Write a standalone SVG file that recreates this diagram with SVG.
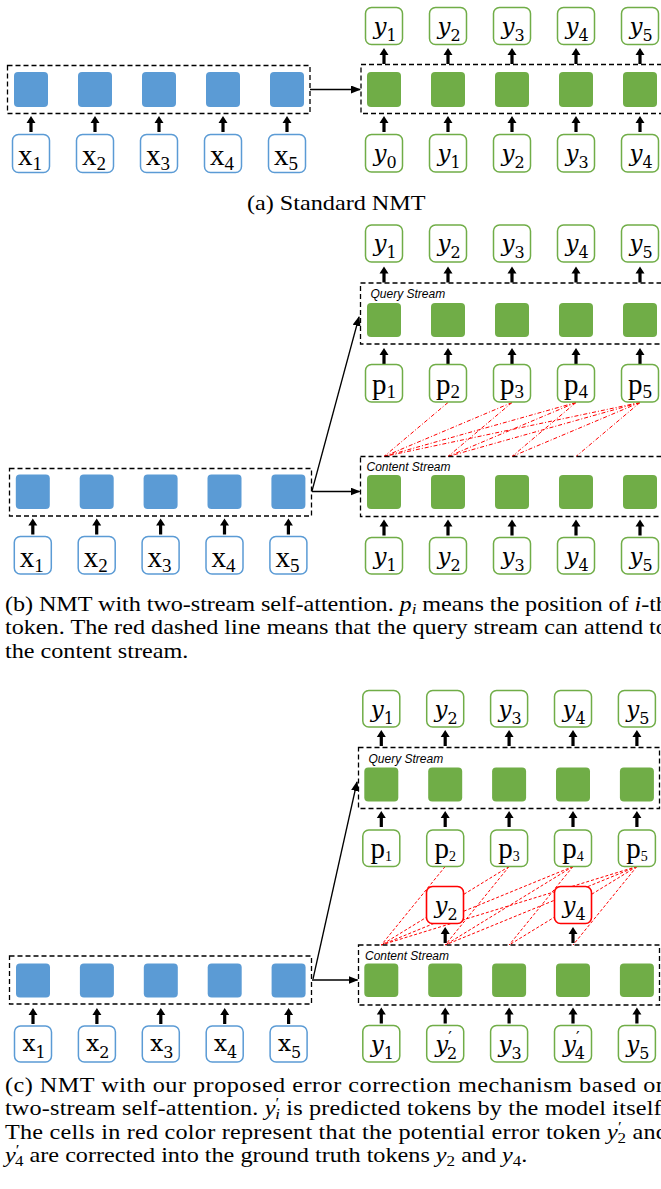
<svg xmlns="http://www.w3.org/2000/svg" xmlns:xlink="http://www.w3.org/1999/xlink" width="661" height="1189" viewBox="0 0 661 1189">
<defs>
<style>
.sqB{fill:#5b9bd5}
.sqG{fill:#70ad47}
.bB{fill:#fff;stroke:#5b9bd5;stroke-width:1.5}
.bG{fill:#fff;stroke:#70ad47;stroke-width:1.5}
.bR{fill:#fff;stroke:#ff0000;stroke-width:1.6}
.dash{fill:none;stroke:#000;stroke-width:1.3;stroke-dasharray:5 3}
.ln{fill:none;stroke:#000;stroke-width:1.3}
.rl1{fill:none;stroke:#ff0000;stroke-width:1;stroke-dasharray:4 2 1 2}
.rl2{fill:none;stroke:#ff0000;stroke-width:1;stroke-dasharray:3 2}
.tl{font-family:"Liberation Serif","Times New Roman",serif;font-size:29px;text-anchor:middle;fill:#000}
.ts{font-size:19px}
.tss{font-size:14px}
.ml{font-family:"DejaVu Serif",serif;font-size:23px;text-anchor:middle;fill:#000}
.mi{font-style:italic}
.ms{font-size:16px}
.cx{font-family:"DejaVu Serif",serif;font-size:23px;text-anchor:middle;fill:#000}
.st{font-family:"Liberation Sans",sans-serif;font-style:italic;font-size:12px;fill:#000}
.cap{font-family:"Liberation Serif","Times New Roman",serif;font-size:22px;fill:#000}
.it{font-style:italic}
.cs{font-size:15.5px}
</style>
<path id="ua" d="M0,0 L4.5,7 L1.6,7 L1.6,16 L-1.6,16 L-1.6,7 L-4.5,7 Z" fill="#000"/>
<marker id="ah" markerUnits="userSpaceOnUse" markerWidth="10" markerHeight="8" refX="9" refY="4" orient="auto"><path d="M0,0 L10,4 L0,8 Z" fill="#000"/></marker>
</defs>

<g id="connectors">
<!-- (a) -->
<use href="#ua" x="31" y="116"/><use href="#ua" x="95" y="116"/><use href="#ua" x="159" y="116"/><use href="#ua" x="223" y="116"/><use href="#ua" x="287" y="116"/>
<use href="#ua" x="384" y="48"/><use href="#ua" x="448" y="48"/><use href="#ua" x="512" y="48"/><use href="#ua" x="576" y="48"/><use href="#ua" x="640" y="48"/>
<use href="#ua" x="384" y="116"/><use href="#ua" x="448" y="116"/><use href="#ua" x="512" y="116"/><use href="#ua" x="576" y="116"/><use href="#ua" x="640" y="116"/>
<path class="ln" d="M310,89.5 L360,89.5" marker-end="url(#ah)"/>
<!-- (b) -->
<use href="#ua" x="32.8" y="518.5"/><use href="#ua" x="96.7" y="518.5"/><use href="#ua" x="160.6" y="518.5"/><use href="#ua" x="224.5" y="518.5"/><use href="#ua" x="288.4" y="518.5"/>
<use href="#ua" x="384" y="266.5"/><use href="#ua" x="448" y="266.5"/><use href="#ua" x="512" y="266.5"/><use href="#ua" x="576" y="266.5"/><use href="#ua" x="640" y="266.5"/>
<use href="#ua" x="384" y="348"/><use href="#ua" x="448" y="348"/><use href="#ua" x="512" y="348"/><use href="#ua" x="576" y="348"/><use href="#ua" x="640" y="348"/>
<use href="#ua" x="384" y="519.5"/><use href="#ua" x="448" y="519.5"/><use href="#ua" x="512" y="519.5"/><use href="#ua" x="576" y="519.5"/><use href="#ua" x="640" y="519.5"/>
<path class="ln" d="M312,491.5 L359.5,491.5" marker-end="url(#ah)"/>
<path class="ln" d="M312,491 L359,317" marker-end="url(#ah)"/>
<g id="b-attn">
<path class="rl1" d="M448,402.5 L384,456.5"/>
<path class="rl1" d="M512,402.5 L384,456.5"/><path class="rl1" d="M512,402.5 L448,456.5"/>
<path class="rl1" d="M576,402.5 L384,456.5"/><path class="rl1" d="M576,402.5 L448,456.5"/><path class="rl1" d="M576,402.5 L512,456.5"/>
<path class="rl1" d="M640,402.5 L384,456.5"/><path class="rl1" d="M640,402.5 L448,456.5"/><path class="rl1" d="M640,402.5 L512,456.5"/><path class="rl1" d="M640,402.5 L576,456.5"/>
</g>
<!-- (c) -->
<use href="#ua" x="33" y="1008"/><use href="#ua" x="96.9" y="1008"/><use href="#ua" x="160.8" y="1008"/><use href="#ua" x="224.7" y="1008"/><use href="#ua" x="288.6" y="1008"/>
<use href="#ua" x="381.3" y="730"/><use href="#ua" x="445.2" y="730"/><use href="#ua" x="509.1" y="730"/><use href="#ua" x="573" y="730"/><use href="#ua" x="636.9" y="730"/>
<use href="#ua" x="381.3" y="811"/><use href="#ua" x="445.2" y="811"/><use href="#ua" x="509.1" y="811"/><use href="#ua" x="573" y="811"/><use href="#ua" x="636.9" y="811"/>
<use href="#ua" x="445.2" y="927"/><use href="#ua" x="573" y="927"/>
<use href="#ua" x="381.3" y="1007.5"/><use href="#ua" x="445.2" y="1007.5"/><use href="#ua" x="509.1" y="1007.5"/><use href="#ua" x="573" y="1007.5"/><use href="#ua" x="636.9" y="1007.5"/>
<path class="ln" d="M312,980 L357.5,980" marker-end="url(#ah)"/>
<path class="ln" d="M313,979 L357,782" marker-end="url(#ah)"/>
<g id="c-attn">
<path class="rl2" d="M445.2,866.5 L381.3,945"/>
<path class="rl2" d="M509.1,866.5 L381.3,945"/><path class="rl2" d="M509.1,866.5 L445.2,945"/>
<path class="rl2" d="M573,866.5 L381.3,945"/><path class="rl2" d="M573,866.5 L445.2,945"/><path class="rl2" d="M573,866.5 L509.1,945"/>
<path class="rl2" d="M636.9,866.5 L381.3,945"/><path class="rl2" d="M636.9,866.5 L445.2,945"/><path class="rl2" d="M636.9,866.5 L509.1,945"/><path class="rl2" d="M636.9,866.5 L573,945"/>
</g>
</g>

<!-- ===== (a) Standard NMT ===== -->
<g id="a-encoder">
<rect class="dash" x="7.5" y="65.5" width="302.5" height="48"/>
<g id="a-enc-1"><rect class="sqB" x="14" y="72" width="34" height="35" rx="4"/></g>
<g id="a-enc-2"><rect class="sqB" x="78" y="72" width="34" height="35" rx="4"/></g>
<g id="a-enc-3"><rect class="sqB" x="142" y="72" width="34" height="35" rx="4"/></g>
<g id="a-enc-4"><rect class="sqB" x="206" y="72" width="34" height="35" rx="4"/></g>
<g id="a-enc-5"><rect class="sqB" x="270" y="72" width="34" height="35" rx="4"/></g>
</g>
<g id="a-x1"><rect class="bB" x="12.5" y="134.5" width="37" height="38" rx="6"/><text class="tl" x="30" y="165">x<tspan class="ts" dy="5">1</tspan></text></g>
<g id="a-x2"><rect class="bB" x="76.5" y="134.5" width="37" height="38" rx="6"/><text class="tl" x="94" y="165">x<tspan class="ts" dy="5">2</tspan></text></g>
<g id="a-x3"><rect class="bB" x="140.5" y="134.5" width="37" height="38" rx="6"/><text class="tl" x="158" y="165">x<tspan class="ts" dy="5">3</tspan></text></g>
<g id="a-x4"><rect class="bB" x="204.5" y="134.5" width="37" height="38" rx="6"/><text class="tl" x="222" y="165">x<tspan class="ts" dy="5">4</tspan></text></g>
<g id="a-x5"><rect class="bB" x="268.5" y="134.5" width="37" height="38" rx="6"/><text class="tl" x="286" y="165">x<tspan class="ts" dy="5">5</tspan></text></g>

<g id="a-decoder">
<rect class="dash" x="361" y="64.5" width="303" height="49"/>
<g id="a-dec-1"><rect class="sqG" x="367" y="72" width="34" height="35" rx="4"/></g>
<g id="a-dec-2"><rect class="sqG" x="431" y="72" width="34" height="35" rx="4"/></g>
<g id="a-dec-3"><rect class="sqG" x="495" y="72" width="34" height="35" rx="4"/></g>
<g id="a-dec-4"><rect class="sqG" x="559" y="72" width="34" height="35" rx="4"/></g>
<g id="a-dec-5"><rect class="sqG" x="623" y="72" width="34" height="35" rx="4"/></g>
</g>
<g id="a-out1"><rect class="bG" x="365.5" y="7.5" width="37" height="37" rx="6"/><text class="ml" x="385" y="33.5"><tspan class="mi">y</tspan><tspan class="ms" dy="7">1</tspan></text></g>
<g id="a-out2"><rect class="bG" x="429.5" y="7.5" width="37" height="37" rx="6"/><text class="ml" x="449" y="33.5"><tspan class="mi">y</tspan><tspan class="ms" dy="7">2</tspan></text></g>
<g id="a-out3"><rect class="bG" x="493.5" y="7.5" width="37" height="37" rx="6"/><text class="ml" x="513" y="33.5"><tspan class="mi">y</tspan><tspan class="ms" dy="7">3</tspan></text></g>
<g id="a-out4"><rect class="bG" x="557.5" y="7.5" width="37" height="37" rx="6"/><text class="ml" x="577" y="33.5"><tspan class="mi">y</tspan><tspan class="ms" dy="7">4</tspan></text></g>
<g id="a-out5"><rect class="bG" x="621.5" y="7.5" width="37" height="37" rx="6"/><text class="ml" x="641" y="33.5"><tspan class="mi">y</tspan><tspan class="ms" dy="7">5</tspan></text></g>
<g id="a-in0"><rect class="bG" x="365.5" y="134.5" width="37" height="37.5" rx="6"/><text class="ml" x="385" y="160.5"><tspan class="mi">y</tspan><tspan class="ms" dy="7">0</tspan></text></g>
<g id="a-in1"><rect class="bG" x="429.5" y="134.5" width="37" height="37.5" rx="6"/><text class="ml" x="449" y="160.5"><tspan class="mi">y</tspan><tspan class="ms" dy="7">1</tspan></text></g>
<g id="a-in2"><rect class="bG" x="493.5" y="134.5" width="37" height="37.5" rx="6"/><text class="ml" x="513" y="160.5"><tspan class="mi">y</tspan><tspan class="ms" dy="7">2</tspan></text></g>
<g id="a-in3"><rect class="bG" x="557.5" y="134.5" width="37" height="37.5" rx="6"/><text class="ml" x="577" y="160.5"><tspan class="mi">y</tspan><tspan class="ms" dy="7">3</tspan></text></g>
<g id="a-in4"><rect class="bG" x="621.5" y="134.5" width="37" height="37.5" rx="6"/><text class="ml" x="641" y="160.5"><tspan class="mi">y</tspan><tspan class="ms" dy="7">4</tspan></text></g>

<!-- ===== (b) ===== -->
<g id="b-encoder">
<rect class="dash" x="9.5" y="468.5" width="302" height="47.5"/>
<g id="b-enc-1"><rect class="sqB" x="15.8" y="474.5" width="34" height="34.5" rx="4"/></g>
<g id="b-enc-2"><rect class="sqB" x="79.7" y="474.5" width="34" height="34.5" rx="4"/></g>
<g id="b-enc-3"><rect class="sqB" x="143.6" y="474.5" width="34" height="34.5" rx="4"/></g>
<g id="b-enc-4"><rect class="sqB" x="207.5" y="474.5" width="34" height="34.5" rx="4"/></g>
<g id="b-enc-5"><rect class="sqB" x="271.4" y="474.5" width="34" height="34.5" rx="4"/></g>
</g>
<g id="b-x1"><rect class="bB" x="14.3" y="536.5" width="37" height="37.5" rx="6"/><text class="tl" x="31.8" y="566.5">x<tspan class="ts" dy="5">1</tspan></text></g>
<g id="b-x2"><rect class="bB" x="78.2" y="536.5" width="37" height="37.5" rx="6"/><text class="tl" x="95.7" y="566.5">x<tspan class="ts" dy="5">2</tspan></text></g>
<g id="b-x3"><rect class="bB" x="142.1" y="536.5" width="37" height="37.5" rx="6"/><text class="tl" x="159.6" y="566.5">x<tspan class="ts" dy="5">3</tspan></text></g>
<g id="b-x4"><rect class="bB" x="206" y="536.5" width="37" height="37.5" rx="6"/><text class="tl" x="223.5" y="566.5">x<tspan class="ts" dy="5">4</tspan></text></g>
<g id="b-x5"><rect class="bB" x="269.9" y="536.5" width="37" height="37.5" rx="6"/><text class="tl" x="287.4" y="566.5">x<tspan class="ts" dy="5">5</tspan></text></g>

<g id="b-query">
<rect class="dash" x="360.5" y="283" width="303" height="61"/>
<text class="st" x="370.5" y="297.5">Query Stream</text>
<g id="b-q-1"><rect class="sqG" x="367" y="303" width="34" height="34" rx="4"/></g>
<g id="b-q-2"><rect class="sqG" x="431" y="303" width="34" height="34" rx="4"/></g>
<g id="b-q-3"><rect class="sqG" x="495" y="303" width="34" height="34" rx="4"/></g>
<g id="b-q-4"><rect class="sqG" x="559" y="303" width="34" height="34" rx="4"/></g>
<g id="b-q-5"><rect class="sqG" x="623" y="303" width="34" height="34" rx="4"/></g>
</g>
<g id="b-out1"><rect class="bG" x="365.5" y="225" width="37" height="37" rx="6"/><text class="ml" x="385" y="251"><tspan class="mi">y</tspan><tspan class="ms" dy="7">1</tspan></text></g>
<g id="b-out2"><rect class="bG" x="429.5" y="225" width="37" height="37" rx="6"/><text class="ml" x="449" y="251"><tspan class="mi">y</tspan><tspan class="ms" dy="7">2</tspan></text></g>
<g id="b-out3"><rect class="bG" x="493.5" y="225" width="37" height="37" rx="6"/><text class="ml" x="513" y="251"><tspan class="mi">y</tspan><tspan class="ms" dy="7">3</tspan></text></g>
<g id="b-out4"><rect class="bG" x="557.5" y="225" width="37" height="37" rx="6"/><text class="ml" x="577" y="251"><tspan class="mi">y</tspan><tspan class="ms" dy="7">4</tspan></text></g>
<g id="b-out5"><rect class="bG" x="621.5" y="225" width="37" height="37" rx="6"/><text class="ml" x="641" y="251"><tspan class="mi">y</tspan><tspan class="ms" dy="7">5</tspan></text></g>
<g id="b-p1"><rect class="bG" x="365.5" y="364.5" width="37" height="37.5" rx="6"/><text class="tl" x="384" y="393.5">p<tspan class="ts" dy="4">1</tspan></text></g>
<g id="b-p2"><rect class="bG" x="429.5" y="364.5" width="37" height="37.5" rx="6"/><text class="tl" x="448" y="393.5">p<tspan class="ts" dy="4">2</tspan></text></g>
<g id="b-p3"><rect class="bG" x="493.5" y="364.5" width="37" height="37.5" rx="6"/><text class="tl" x="512" y="393.5">p<tspan class="ts" dy="4">3</tspan></text></g>
<g id="b-p4"><rect class="bG" x="557.5" y="364.5" width="37" height="37.5" rx="6"/><text class="tl" x="576" y="393.5">p<tspan class="ts" dy="4">4</tspan></text></g>
<g id="b-p5"><rect class="bG" x="621.5" y="364.5" width="37" height="37.5" rx="6"/><text class="tl" x="640" y="393.5">p<tspan class="ts" dy="4">5</tspan></text></g>

<g id="b-content">
<rect class="dash" x="360.5" y="456.5" width="303" height="60"/>
<text class="st" x="366.5" y="471">Content Stream</text>
<g id="b-c-1"><rect class="sqG" x="367" y="475" width="34" height="34" rx="4"/></g>
<g id="b-c-2"><rect class="sqG" x="431" y="475" width="34" height="34" rx="4"/></g>
<g id="b-c-3"><rect class="sqG" x="495" y="475" width="34" height="34" rx="4"/></g>
<g id="b-c-4"><rect class="sqG" x="559" y="475" width="34" height="34" rx="4"/></g>
<g id="b-c-5"><rect class="sqG" x="623" y="475" width="34" height="34" rx="4"/></g>
</g>
<g id="b-in1"><rect class="bG" x="365.5" y="537.5" width="37" height="36.5" rx="6"/><text class="ml" x="385" y="563.5"><tspan class="mi">y</tspan><tspan class="ms" dy="7">1</tspan></text></g>
<g id="b-in2"><rect class="bG" x="429.5" y="537.5" width="37" height="36.5" rx="6"/><text class="ml" x="449" y="563.5"><tspan class="mi">y</tspan><tspan class="ms" dy="7">2</tspan></text></g>
<g id="b-in3"><rect class="bG" x="493.5" y="537.5" width="37" height="36.5" rx="6"/><text class="ml" x="513" y="563.5"><tspan class="mi">y</tspan><tspan class="ms" dy="7">3</tspan></text></g>
<g id="b-in4"><rect class="bG" x="557.5" y="537.5" width="37" height="36.5" rx="6"/><text class="ml" x="577" y="563.5"><tspan class="mi">y</tspan><tspan class="ms" dy="7">4</tspan></text></g>
<g id="b-in5"><rect class="bG" x="621.5" y="537.5" width="37" height="36.5" rx="6"/><text class="ml" x="641" y="563.5"><tspan class="mi">y</tspan><tspan class="ms" dy="7">5</tspan></text></g>

<!-- ===== (c) ===== -->
<g id="c-encoder">
<rect class="dash" x="9.5" y="956" width="302" height="48"/>
<g id="c-enc-1"><rect class="sqB" x="16" y="963.5" width="34" height="34" rx="4"/></g>
<g id="c-enc-2"><rect class="sqB" x="79.9" y="963.5" width="34" height="34" rx="4"/></g>
<g id="c-enc-3"><rect class="sqB" x="143.8" y="963.5" width="34" height="34" rx="4"/></g>
<g id="c-enc-4"><rect class="sqB" x="207.7" y="963.5" width="34" height="34" rx="4"/></g>
<g id="c-enc-5"><rect class="sqB" x="271.6" y="963.5" width="34" height="34" rx="4"/></g>
</g>
<g id="c-x1"><rect class="bB" x="14.5" y="1026" width="37" height="36" rx="6"/><text class="cx" x="34" y="1051">x<tspan class="ms" dy="7">1</tspan></text></g>
<g id="c-x2"><rect class="bB" x="78.4" y="1026" width="37" height="36" rx="6"/><text class="cx" x="97.9" y="1051">x<tspan class="ms" dy="7">2</tspan></text></g>
<g id="c-x3"><rect class="bB" x="142.3" y="1026" width="37" height="36" rx="6"/><text class="cx" x="161.8" y="1051">x<tspan class="ms" dy="7">3</tspan></text></g>
<g id="c-x4"><rect class="bB" x="206.2" y="1026" width="37" height="36" rx="6"/><text class="cx" x="225.7" y="1051">x<tspan class="ms" dy="7">4</tspan></text></g>
<g id="c-x5"><rect class="bB" x="270.1" y="1026" width="37" height="36" rx="6"/><text class="cx" x="289.6" y="1051">x<tspan class="ms" dy="7">5</tspan></text></g>

<g id="c-query">
<rect class="dash" x="358.5" y="747.5" width="301" height="61"/>
<text class="st" x="368.5" y="762.5">Query Stream</text>
<g id="c-q-1"><rect class="sqG" x="364.3" y="767.5" width="34" height="34" rx="4"/></g>
<g id="c-q-2"><rect class="sqG" x="428.2" y="767.5" width="34" height="34" rx="4"/></g>
<g id="c-q-3"><rect class="sqG" x="492.1" y="767.5" width="34" height="34" rx="4"/></g>
<g id="c-q-4"><rect class="sqG" x="556" y="767.5" width="34" height="34" rx="4"/></g>
<g id="c-q-5"><rect class="sqG" x="619.9" y="767.5" width="34" height="34" rx="4"/></g>
</g>
<g id="c-out1"><rect class="bG" x="362.8" y="690.5" width="37" height="36.5" rx="6"/><text class="ml" x="382.3" y="716.5"><tspan class="mi">y</tspan><tspan class="ms" dy="7">1</tspan></text></g>
<g id="c-out2"><rect class="bG" x="426.7" y="690.5" width="37" height="36.5" rx="6"/><text class="ml" x="446.2" y="716.5"><tspan class="mi">y</tspan><tspan class="ms" dy="7">2</tspan></text></g>
<g id="c-out3"><rect class="bG" x="490.6" y="690.5" width="37" height="36.5" rx="6"/><text class="ml" x="510.1" y="716.5"><tspan class="mi">y</tspan><tspan class="ms" dy="7">3</tspan></text></g>
<g id="c-out4"><rect class="bG" x="554.5" y="690.5" width="37" height="36.5" rx="6"/><text class="ml" x="574" y="716.5"><tspan class="mi">y</tspan><tspan class="ms" dy="7">4</tspan></text></g>
<g id="c-out5"><rect class="bG" x="618.4" y="690.5" width="37" height="36.5" rx="6"/><text class="ml" x="637.9" y="716.5"><tspan class="mi">y</tspan><tspan class="ms" dy="7">5</tspan></text></g>
<g id="c-p1"><rect class="bG" x="362.8" y="830" width="37" height="36.5" rx="6"/><text class="tl" x="381.3" y="858">p<tspan class="tss" dy="3">1</tspan></text></g>
<g id="c-p2"><rect class="bG" x="426.7" y="830" width="37" height="36.5" rx="6"/><text class="tl" x="445.2" y="858">p<tspan class="tss" dy="3">2</tspan></text></g>
<g id="c-p3"><rect class="bG" x="490.6" y="830" width="37" height="36.5" rx="6"/><text class="tl" x="509.1" y="858">p<tspan class="tss" dy="3">3</tspan></text></g>
<g id="c-p4"><rect class="bG" x="554.5" y="830" width="37" height="36.5" rx="6"/><text class="tl" x="573" y="858">p<tspan class="tss" dy="3">4</tspan></text></g>
<g id="c-p5"><rect class="bG" x="618.4" y="830" width="37" height="36.5" rx="6"/><text class="tl" x="636.9" y="858">p<tspan class="tss" dy="3">5</tspan></text></g>

<g id="c-fix2"><rect class="bR" x="426.5" y="886.5" width="37" height="37" rx="6"/><text class="ml" x="446" y="912.5"><tspan class="mi">y</tspan><tspan class="ms" dy="7">2</tspan></text></g>
<g id="c-fix4"><rect class="bR" x="554.5" y="886.5" width="37" height="37" rx="6"/><text class="ml" x="574" y="912.5"><tspan class="mi">y</tspan><tspan class="ms" dy="7">4</tspan></text></g>

<g id="c-content">
<rect class="dash" x="358.5" y="945" width="301" height="60"/>
<text class="st" x="365" y="959.5">Content Stream</text>
<g id="c-c-1"><rect class="sqG" x="364.3" y="963.5" width="34" height="33.5" rx="4"/></g>
<g id="c-c-2"><rect class="sqG" x="428.2" y="963.5" width="34" height="33.5" rx="4"/></g>
<g id="c-c-3"><rect class="sqG" x="492.1" y="963.5" width="34" height="33.5" rx="4"/></g>
<g id="c-c-4"><rect class="sqG" x="556" y="963.5" width="34" height="33.5" rx="4"/></g>
<g id="c-c-5"><rect class="sqG" x="619.9" y="963.5" width="34" height="33.5" rx="4"/></g>
</g>
<g id="c-in1"><rect class="bG" x="362.8" y="1025.5" width="37" height="36.5" rx="6"/><text class="ml" x="382.3" y="1051.5"><tspan class="mi">y</tspan><tspan class="ms" dy="7">1</tspan></text></g>
<g id="c-in2"><rect class="bG" x="426.7" y="1025.5" width="37" height="36.5" rx="6"/><text class="ml" x="446.2" y="1051.5"><tspan class="mi">y</tspan><tspan class="ms" dy="-9">′</tspan><tspan class="ms" dx="-5" dy="16">2</tspan></text></g>
<g id="c-in3"><rect class="bG" x="490.6" y="1025.5" width="37" height="36.5" rx="6"/><text class="ml" x="510.1" y="1051.5"><tspan class="mi">y</tspan><tspan class="ms" dy="7">3</tspan></text></g>
<g id="c-in4"><rect class="bG" x="554.5" y="1025.5" width="37" height="36.5" rx="6"/><text class="ml" x="574" y="1051.5"><tspan class="mi">y</tspan><tspan class="ms" dy="-9">′</tspan><tspan class="ms" dx="-5" dy="16">4</tspan></text></g>
<g id="c-in5"><rect class="bG" x="618.4" y="1025.5" width="37" height="36.5" rx="6"/><text class="ml" x="637.9" y="1051.5"><tspan class="mi">y</tspan><tspan class="ms" dy="7">5</tspan></text></g>

<!-- captions -->
<g id="captions" transform="scale(1.1 1)">
<text class="cap" x="224.5" y="210">(a) Standard NMT</text>
<text class="cap" x="4.5" y="611" textLength="602.7" lengthAdjust="spacing">(b) NMT with two-stream self-attention. <tspan class="it">p</tspan><tspan class="it cs" dy="3">i</tspan><tspan dy="-3"> means the position of </tspan><tspan class="it">i</tspan>-th</text>
<text class="cap" x="4.5" y="634.5" textLength="602.7" lengthAdjust="spacing">token. The red dashed line means that the query stream can attend to</text>
<text class="cap" x="4.5" y="658">the content stream.</text>
<text class="cap" x="4.5" y="1092" textLength="602.7" lengthAdjust="spacing">(c) NMT with our proposed error correction mechanism based on</text>
<text class="cap" x="4.5" y="1115.5" textLength="602.7" lengthAdjust="spacing">two-stream self-attention. <tspan class="it">y</tspan><tspan class="cs" dy="-7">′</tspan><tspan class="it cs" dx="-4" dy="11">i</tspan><tspan dy="-4"> is predicted tokens by the model itself.</tspan></text>
<text class="cap" x="4.5" y="1139" textLength="602.7" lengthAdjust="spacing">The cells in red color represent that the potential error token <tspan class="it">y</tspan><tspan class="cs" dy="-7">′</tspan><tspan class="cs" dx="-4" dy="11">2</tspan><tspan dy="-4"> and</tspan></text>
<text class="cap" x="4.5" y="1162.5"><tspan class="it">y</tspan><tspan class="cs" dy="-7">′</tspan><tspan class="cs" dx="-4" dy="11">4</tspan><tspan dy="-4"> are corrected into the ground truth tokens </tspan><tspan class="it">y</tspan><tspan class="cs" dy="4">2</tspan><tspan dy="-4"> and </tspan><tspan class="it">y</tspan><tspan class="cs" dy="4">4</tspan><tspan dy="-4">.</tspan></text>
</g>
</svg>
